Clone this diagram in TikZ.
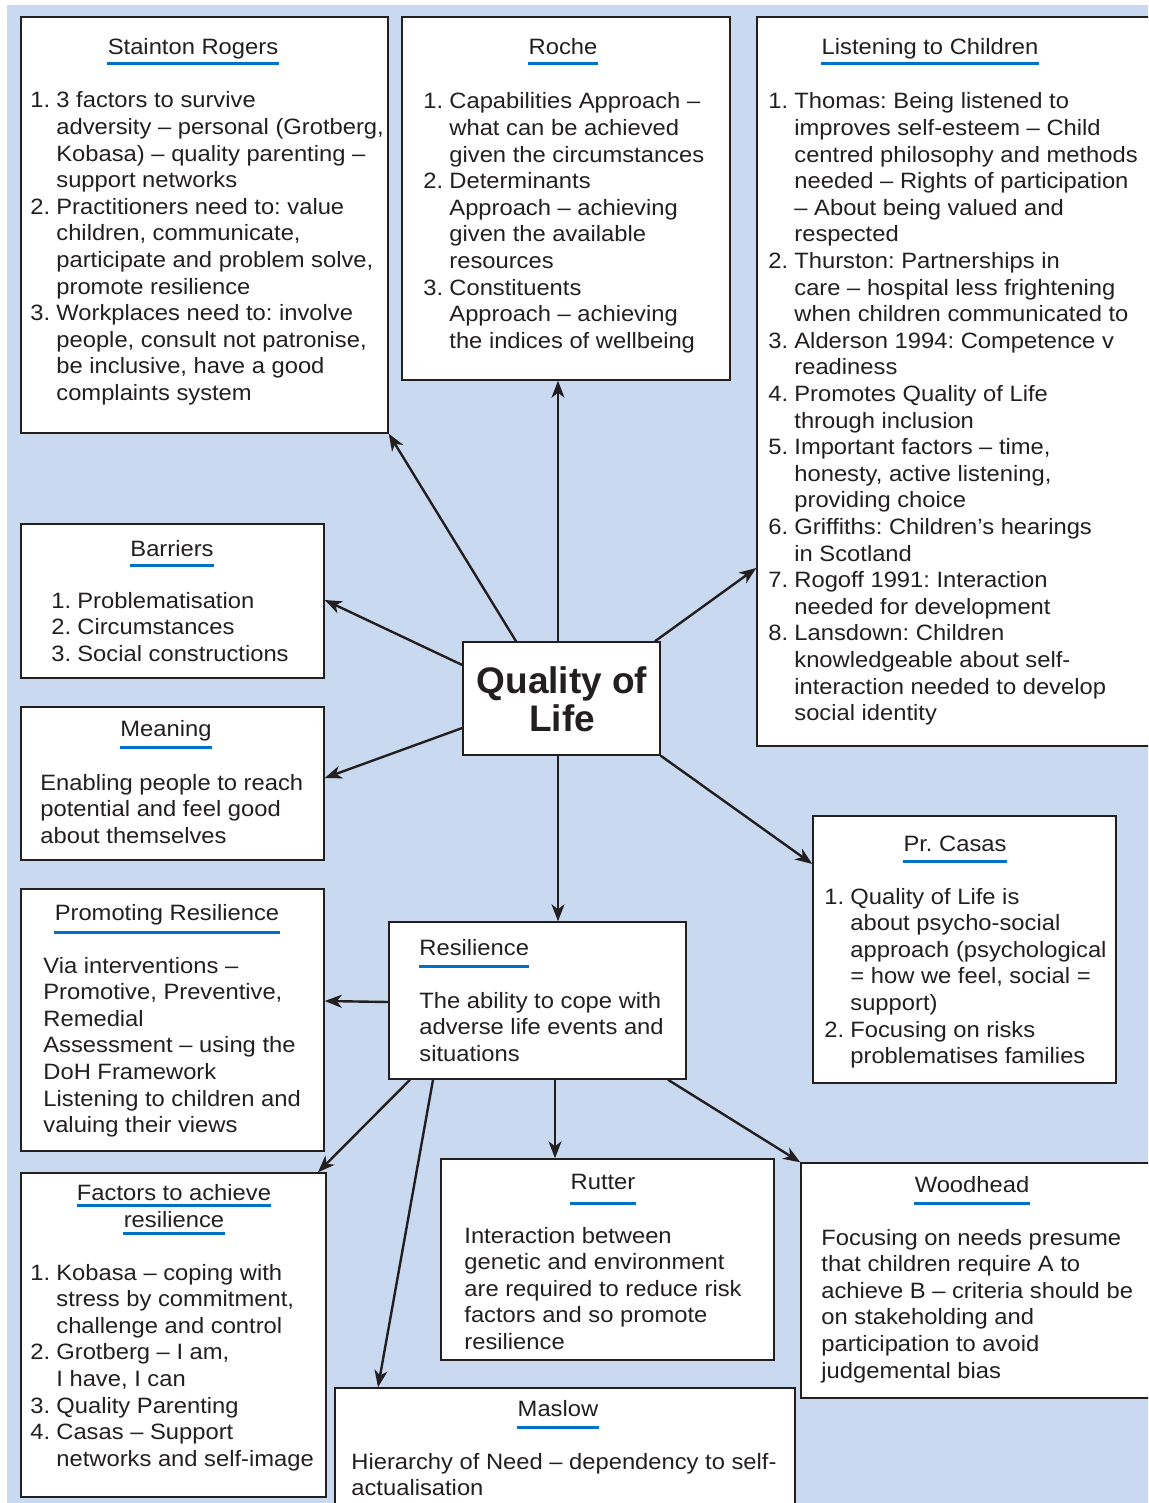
\documentclass[tikz,border=0pt]{standalone}
\usepackage{fontspec}
\setmainfont{Liberation Sans}[FakeStretch=1.07]
\newfontfamily\qolfont{Liberation Sans}
\usetikzlibrary{arrows.meta,fit}
\definecolor{bgblue}{RGB}{201,217,240}
\definecolor{ulblue}{RGB}{0,114,198}
\definecolor{ink}{RGB}{35,31,32}
\newcommand\itm[1]{\makebox[13pt][l]{#1}}
\frenchspacing
\begin{document}
\begin{tikzpicture}[x=0.5pt,y=-0.5pt,
  box/.style={draw=ink,line width=0.75pt,fill=white,inner sep=0pt},
  ttl/.style={inner sep=0pt,anchor=base,font=\frenchspacing\fontsize{11.1}{13.3}\selectfont,text=ink},
  body/.style={inner sep=0pt,anchor=base west,font=\frenchspacing\fontsize{11.1}{13.3}\selectfont,text=ink},
  ul/.style={draw=ulblue,line width=1.5pt},
  arr/.style={draw=ink,line width=1.2pt,-{Stealth[length=8.5pt,width=6.5pt,inset=2.5pt]}}]
\useasboundingbox (0,0) rectangle (1148,1503);
\clip (0,0) rectangle (1148,1503);
\fill[white] (0,0) rectangle (1148,1503);
\fill[bgblue] (7,5) rectangle (1160,1510);

% boxes
\node[box,fit={(21,17)(388,433)}] (sr) {};
\node[box,fit={(402,17)(730,380)}] (roc) {};
\node[box,fit={(757,17)(1160,746)}] (lis) {};
\node[box,fit={(21,524)(324,678)}] (bar) {};
\node[box,fit={(21,707)(324,860)}] (mea) {};
\node[box,fit={(463,642)(660,755)}] (qol) {};
\node[box,fit={(813,816)(1116,1083)}] (cas) {};
\node[box,fit={(21,889)(324,1151)}] (pro) {};
\node[box,fit={(389,922)(686,1079)}] (res) {};
\node[box,fit={(21,1173)(326,1497)}] (fac) {};
\node[box,fit={(441,1159)(774,1360)}] (rut) {};
\node[box,fit={(801,1163)(1160,1398)}] (woo) {};
\node[box,fit={(335,1388)(795,1515)}] (mas) {};

% centre
\node[inner sep=0pt,align=center,text=ink,font=\qolfont\bfseries\fontsize{18.5}{19}\selectfont] (qolt) at (562,699) {Quality of\\Life};

% titles
\node[ttl] (srt) at (193,55) {Stainton Rogers};
\draw[ul] (srt.west |- 0,64) -- (srt.east |- 0,64);
\node[ttl] (roct) at (563,55) {Roche};
\draw[ul] (roct.west |- 0,64) -- (roct.east |- 0,64);
\node[ttl] (list) at (930,55) {Listening to Children};
\draw[ul] (list.west |- 0,64) -- (list.east |- 0,64);
\node[ttl] (bart) at (172,556) {Barriers};
\draw[ul] (bart.west |- 0,565) -- (bart.east |- 0,565);
\node[ttl] (meat) at (166,736) {Meaning};
\draw[ul] (meat.west |- 0,747) -- (meat.east |- 0,747);
\node[ttl] (cast) at (955,851) {Pr. Casas};
\draw[ul] (cast.west |- 0,861) -- (cast.east |- 0,861);
\node[ttl] (prot) at (167,920) {Promoting Resilience};
\draw[ul] (prot.west |- 0,932) -- (prot.east |- 0,932);
\node[ttl,anchor=base west] (rest) at (419,955) {Resilience};
\draw[ul] (rest.west |- 0,966) -- (rest.east |- 0,966);
\node[ttl] (fact) at (174,1200) {Factors to achieve};
\draw[ul] (fact.west |- 0,1205) -- (fact.east |- 0,1205);
\node[ttl] (fact2) at (174,1227) {resilience};
\draw[ul] (fact2.west |- 0,1233) -- (fact2.east |- 0,1233);
\node[ttl] (rutt) at (603,1189) {Rutter};
\draw[ul] (rutt.west |- 0,1203) -- (rutt.east |- 0,1203);
\node[ttl] (woot) at (972,1192) {Woodhead};
\draw[ul] (woot.west |- 0,1203) -- (woot.east |- 0,1203);
\node[ttl] (mast) at (558,1416) {Maslow};
\draw[ul] (mast.west |- 0,1427) -- (mast.east |- 0,1427);

% bodies
\node[body] (srb) at (30,108) {\begin{tabular}[t]{@{}l@{}l@{}}
\itm{1.}&3 factors to survive\\
&adversity – personal (Grotberg,\\
&Kobasa) – quality parenting –\\
&support networks\\
\itm{2.}&Practitioners need to: value\\
&children, communicate,\\
&participate and problem solve,\\
&promote resilience\\
\itm{3.}&Workplaces need to: involve\\
&people, consult not patronise,\\
&be inclusive, have a good\\
&complaints system
\end{tabular}};

\node[body] (rocb) at (423,109) {\begin{tabular}[t]{@{}l@{}l@{}}
\itm{1.}&Capabilities Approach –\\
&what can be achieved\\
&given the circumstances\\
\itm{2.}&Determinants\\
&Approach – achieving\\
&given the available\\
&resources\\
\itm{3.}&Constituents\\
&Approach – achieving\\
&the indices of wellbeing
\end{tabular}};

\node[body] (lisb) at (768,109) {\begin{tabular}[t]{@{}l@{}l@{}}
\itm{1.}&Thomas: Being listened to\\
&improves self-esteem – Child\\
&centred philosophy and methods\\
&needed – Rights of participation\\
&– About being valued and\\
&respected\\
\itm{2.}&Thurston: Partnerships in\\
&care – hospital less frightening\\
&when children communicated to\\
\itm{3.}&Alderson 1994: Competence v\\
&readiness\\
\itm{4.}&Promotes Quality of Life\\
&through inclusion\\
\itm{5.}&Important factors – time,\\
&honesty, active listening,\\
&providing choice\\
\itm{6.}&Griffiths: Children’s hearings\\
&in Scotland\\
\itm{7.}&Rogoff 1991: Interaction\\
&needed for development\\
\itm{8.}&Lansdown: Children\\
&knowledgeable about self-\\
&interaction needed to develop\\
&social identity
\end{tabular}};

\node[body] (barb) at (51,608) {\begin{tabular}[t]{@{}l@{}l@{}}
\itm{1.}&Problematisation\\
\itm{2.}&Circumstances\\
\itm{3.}&Social constructions
\end{tabular}};

\node[body] (meab) at (40,790) {\begin{tabular}[t]{@{}l@{}}
Enabling people to reach\\
potential and feel good\\
about themselves
\end{tabular}};

\node[body] (casb) at (824,904) {\begin{tabular}[t]{@{}l@{}l@{}}
\itm{1.}&Quality of Life is\\
&about psycho-social\\
&approach (psychological\\
&= how we feel, social =\\
&support)\\
\itm{2.}&Focusing on risks\\
&problematises families
\end{tabular}};

\node[body] (prob) at (43,973) {\begin{tabular}[t]{@{}l@{}}
Via interventions –\\
Promotive, Preventive,\\
Remedial\\
Assessment – using the\\
DoH Framework\\
Listening to children and\\
valuing their views
\end{tabular}};

\node[body] (resb) at (419,1008) {\begin{tabular}[t]{@{}l@{}}
The ability to cope with\\
adverse life events and\\
situations
\end{tabular}};

\node[body] (facb) at (30,1280) {\begin{tabular}[t]{@{}l@{}l@{}}
\itm{1.}&Kobasa – coping with\\
&stress by commitment,\\
&challenge and control\\
\itm{2.}&Grotberg – I am,\\
&I have, I can\\
\itm{3.}&Quality Parenting\\
\itm{4.}&Casas – Support\\
&networks and self-image
\end{tabular}};

\node[body] (rutb) at (464,1243) {\begin{tabular}[t]{@{}l@{}}
Interaction between\\
genetic and environment\\
are required to reduce risk\\
factors and so promote\\
resilience
\end{tabular}};

\node[body] (woob) at (821,1245) {\begin{tabular}[t]{@{}l@{}}
Focusing on needs presume\\
that children require A to\\
achieve B – criteria should be\\
on stakeholding and\\
participation to avoid\\
judgemental bias
\end{tabular}};

\node[body] (masb) at (351,1469) {\begin{tabular}[t]{@{}l@{}}
Hierarchy of Need – dependency to self-\\
actualisation
\end{tabular}};

% connectors
\draw[arr] (qol.north -| 516,0) -- (sr.south east);
\draw[arr] (qol.north -| 558,0) -- (roc.south -| 558,0);
\draw[arr] (qol.north -| 655,0) -- (lis.west |- 0,568);
\draw[arr] (qol.west |- 0,665) -- (bar.east |- 0,600);
\draw[arr] (qol.west |- 0,728) -- (mea.east |- 0,778);
\draw[arr] (qol.south east) -- (cas.west |- 0,864);
\draw[arr] (qol.south -| 558,0) -- (res.north -| 558,0);
\draw[arr] (res.west |- 0,1002) -- (pro.east |- 0,1001);
\draw[arr] (res.south -| 410,0) -- (fac.north -| 318,0);
\draw[arr] (res.south -| 433,0) -- (mas.north -| 378,0);
\draw[arr] (res.south -| 555,0) -- (rut.north -| 555,0);
\draw[arr] (res.south -| 668,0) -- (woo.north west);
\end{tikzpicture}
\end{document}
